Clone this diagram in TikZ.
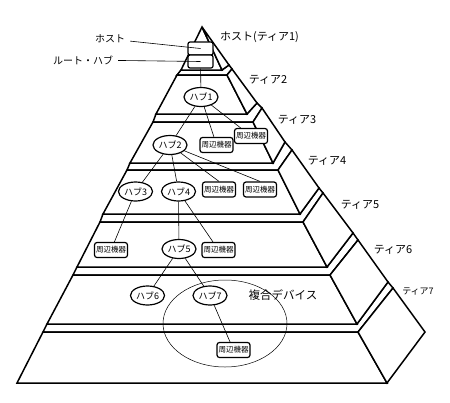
\documentclass[tikz,border=0pt]{standalone}
\usepackage{fontspec}
\setmainfont{Noto Sans CJK JP}
\usetikzlibrary{shapes.geometric}

\begin{document}
\begin{tikzpicture}[x=1pt,y=-1pt,
  slab/.style={draw,fill=white,line width=1.5pt},
  hub/.style={draw,fill=white,ellipse,line width=1.2pt,inner sep=0pt,
    minimum width=34pt,minimum height=19pt,font=\fontsize{9}{10}\selectfont},
  device/.style={draw,fill=white,rounded corners=2.5pt,line width=1.2pt,
    inner sep=0pt,minimum width=33pt,minimum height=15pt,
    font=\fontsize{7.5}{8}\selectfont},
  hostbox/.style={draw,fill=white,rounded corners=2pt,line width=1.2pt,
    inner sep=0pt,minimum width=25pt,minimum height=13pt},
  link/.style={line width=0.6pt},
  callout/.style={font=\fontsize{10}{11}\selectfont,inner sep=5pt},
  tierlbl/.style={font=\fontsize{11}{12}\selectfont,inner sep=0pt}]
  \useasboundingbox (0,0) rectangle (450,402);
  % corners of the tiers
  \coordinate (t1a) at (202,27);  \coordinate (t1bl) at (181,70);
  \coordinate (t1br) at (222,70); \coordinate (t1r) at (229,65);
  \coordinate (t2tl) at (177,75); \coordinate (t2tr) at (227,75);
  \coordinate (t2br) at (247,114); \coordinate (t2bl) at (156,114);
  \coordinate (t2bt) at (232,69); \coordinate (t2r) at (257,103);
  \coordinate (t3tl) at (153,122); \coordinate (t3tr) at (253,122);
  \coordinate (t3br) at (273,163); \coordinate (t3bl) at (130,163);
  \coordinate (t3bt) at (262,108); \coordinate (t3r) at (285,142);
  \coordinate (t4tl) at (127,170); \coordinate (t4tr) at (278,170);
  \coordinate (t4br) at (300,214); \coordinate (t4bl) at (103,214);
  \coordinate (t4bt) at (292,150); \coordinate (t4r) at (319,188);
  \coordinate (t5tl) at (100,222); \coordinate (t5tr) at (303,222);
  \coordinate (t5br) at (327,267); \coordinate (t5bl) at (77,267);
  \coordinate (t5bt) at (323,193); \coordinate (t5r) at (353,233);
  \coordinate (t6tl) at (73,275); \coordinate (t6tr) at (330,275);
  \coordinate (t6br) at (357,324); \coordinate (t6bl) at (47,324);
  \coordinate (t6bt) at (358,240); \coordinate (t6r) at (388,282);
  \coordinate (t7tl) at (43,332); \coordinate (t7tr) at (358,332);
  \coordinate (t7br) at (387,383); \coordinate (t7bl) at (17,383);
  \coordinate (t7bt) at (393,288); \coordinate (t7r) at (425,332);
  % tier 7
  \draw[slab] (t7tl) -- (t7tr) -- (t7bt) -- (t6r) -- (t6br) -- (t6bl) -- cycle;
  \draw[slab] (t7tl) -- (t7tr) -- (t7br) -- (t7bl) -- cycle;
  \draw[slab] (t7tr) -- (t7bt) -- (t7r) -- (t7br) -- cycle;
  % tier 6
  \draw[slab] (t6tl) -- (t6tr) -- (t6bt) -- (t5r) -- (t5br) -- (t5bl) -- cycle;
  \draw[slab] (t6tl) -- (t6tr) -- (t6br) -- (t6bl) -- cycle;
  \draw[slab] (t6tr) -- (t6bt) -- (t6r) -- (t6br) -- cycle;
  % tier 5
  \draw[slab] (t5tl) -- (t5tr) -- (t5bt) -- (t4r) -- (t4br) -- (t4bl) -- cycle;
  \draw[slab] (t5tl) -- (t5tr) -- (t5br) -- (t5bl) -- cycle;
  \draw[slab] (t5tr) -- (t5bt) -- (t5r) -- (t5br) -- cycle;
  % tier 4
  \draw[slab] (t4tl) -- (t4tr) -- (t4bt) -- (t3r) -- (t3br) -- (t3bl) -- cycle;
  \draw[slab] (t4tl) -- (t4tr) -- (t4br) -- (t4bl) -- cycle;
  \draw[slab] (t4tr) -- (t4bt) -- (t4r) -- (t4br) -- cycle;
  % tier 3
  \draw[slab] (t3tl) -- (t3tr) -- (t3bt) -- (t2r) -- (t2br) -- (t2bl) -- cycle;
  \draw[slab] (t3tl) -- (t3tr) -- (t3br) -- (t3bl) -- cycle;
  \draw[slab] (t3tr) -- (t3bt) -- (t3r) -- (t3br) -- cycle;
  % tier 2
  \draw[slab] (t2tl) -- (t2tr) -- (t2bt) -- (t1r) -- (t1br) -- (t1bl) -- cycle;
  \draw[slab] (t2tl) -- (t2tr) -- (t2br) -- (t2bl) -- cycle;
  \draw[slab] (t2tr) -- (t2bt) -- (t2r) -- (t2br) -- cycle;
  % tier 1
  \draw[slab] (t1a) -- (t1br) -- (t1bl) -- cycle;
  \draw[slab] (t1a) -- (t1r) -- (t1br) -- cycle;

  \node[draw,ellipse,line width=0.5pt,minimum width=124pt,
    minimum height=87pt](combo) at (225,323.5) {};

  \node[hostbox](host) at (200.5,48.5) {};
  \node[hostbox](root) at (200.5,61.5) {};
  \node[hub](H1) at (201,97) {ハブ1};
  \node[hub](H2) at (170,145) {ハブ2};
  \node[device](P1) at (216.5,145) {周辺機器};
  \node[device](P2) at (251,136) {周辺機器};
  \node[hub](H3) at (135.5,191.5) {ハブ3};
  \node[hub](H4) at (178.5,191.5) {ハブ4};
  \node[device](P3) at (219,189.5) {周辺機器};
  \node[device](P4) at (260,189.5) {周辺機器};
  \node[device](P5) at (111,250) {周辺機器};
  \node[hub](H5) at (179,249) {ハブ5};
  \node[device](P6) at (218.5,250) {周辺機器};
  \node[hub](H6) at (147.5,295.5) {ハブ6};
  \node[hub](H7) at (210,295.5) {ハブ7};
  \node[device](P7) at (233.5,350) {周辺機器};

  \draw[link](root)--(H1);
  \draw[link](H1)--(H2);
  \draw[link](H1)--(P1);
  \draw[link](H1)--(P2);
  \draw[link](H2)--(H3);
  \draw[link](H2)--(H4);
  \draw[link](H2)--(P3.north);
  \draw[link](H2)--(P4.north);
  \draw[link](H3)--(P5);
  \draw[link](H4)--(H5);
  \draw[link](H4)--(P6);
  \draw[link](H5)--(H6);
  \draw[link](H5)--(H7);
  \draw[link](H7)--(P7);

  % Annotation
  \node[callout](hostlbl) at (110,39) {ホスト};
  \node[callout](rootlbl) at (83,60) {ルート・ハブ};
  \draw[link](hostlbl)--(host.center);
  \draw[link](rootlbl)--(root.center);
  \node[tierlbl](T1) at (259.5,37) {ホスト(ティア1)};
  \node[tierlbl](T2) at (268,80) {ティア2};
  \node[tierlbl](T3) at (297,120) {ティア3};
  \node[tierlbl](T4) at (327,161) {ティア4};
  \node[tierlbl](T5) at (360,205) {ティア5};
  \node[tierlbl](T6) at (393,250) {ティア6};
  \node[tierlbl,font=\fontsize{9}{10}\selectfont](T7) at (418,292) {ティア7};
  \node[tierlbl,font=\fontsize{11.5}{12}\selectfont](combolbl) at (283,295)
    {複合デバイス};
\end{tikzpicture}
\end{document}
